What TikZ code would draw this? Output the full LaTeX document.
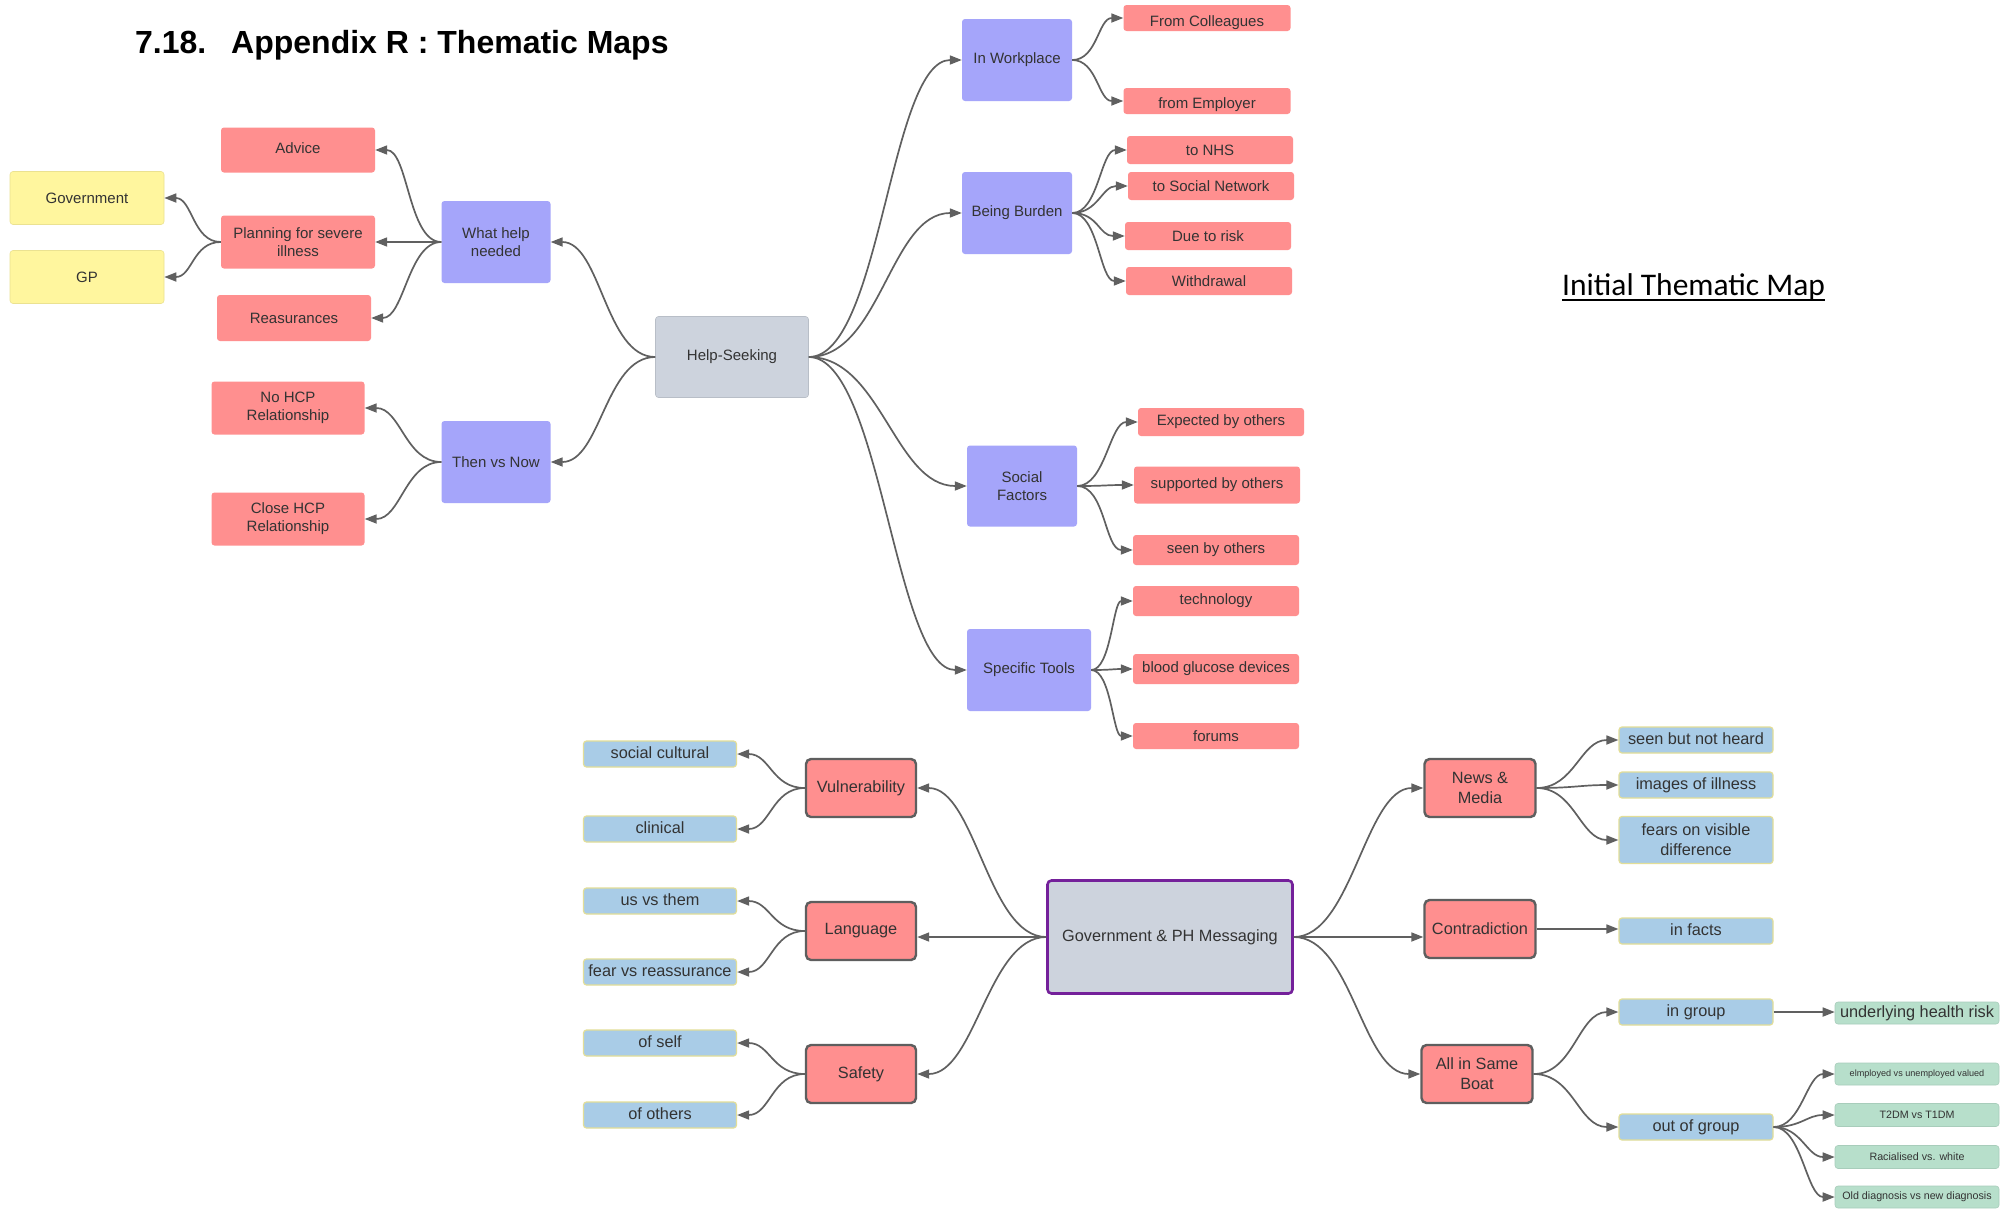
\documentclass[tikz,border=0pt]{standalone}
\usepackage{fontspec}
\setmainfont{Liberation Sans}
\newfontfamily\calfont{Carlito}
\usetikzlibrary{arrows.meta}

\definecolor{subfill}{HTML}{A5A5FA}
\definecolor{pinkfill}{HTML}{FF8F8F}
\definecolor{grayfill}{HTML}{CDD3DD}
\definecolor{yellowfill}{HTML}{FFF69E}
\definecolor{bluefill}{HTML}{A9CCE7}
\definecolor{blueline}{HTML}{E2DE98}
\definecolor{greenfill}{HTML}{B7DFCB}
\definecolor{darkline}{HTML}{5E5E5E}
\definecolor{govline}{HTML}{74209A}
\definecolor{edgecol}{HTML}{606060}
\definecolor{txt}{HTML}{333333}

\tikzset{
  box/.style={rectangle, rounded corners=3pt, inner sep=1pt, align=center, text=txt},
  topfont/.style={font=\fontsize{15}{18.2}\selectfont},
  lowfont/.style={font=\fontsize{16.3}{19.7}\selectfont},
  hub/.style={box, topfont, fill=grayfill, draw=grayfill!90!black, line width=0.6pt},
  sub/.style={box, topfont, fill=subfill},
  leaf/.style={box, topfont, fill=pinkfill},
  note/.style={box, topfont, fill=yellowfill, draw=yellowfill!92!black, line width=0.6pt},
  theme/.style={box, lowfont, fill=pinkfill, draw=darkline, line width=2.4pt, rounded corners=5pt},
  code/.style={box, lowfont, fill=bluefill, draw=blueline, line width=1.2pt, text height=12pt, text depth=4pt},
  detail/.style={box, fill=greenfill, draw=greenfill!92!black, line width=0.6pt},
  govbox/.style={box, lowfont, fill=grayfill, draw=govline, line width=2.6pt, rounded corners=4pt},
  link/.style={draw=edgecol, line width=1.7pt, -{Triangle[length=12pt,width=9pt]}},
  goright/.style={out=0, in=180, distance=#1},
  goleft/.style={out=180, in=0, distance=#1}
}

\begin{document}
\begin{tikzpicture}[x=1pt, y=-1pt]
\fill[white] (0,0) rectangle (2008,1208);
\useasboundingbox (0,0) rectangle (2008,1208);

% headings
\node[anchor=base west, inner sep=0, font=\fontsize{32}{36}\selectfont\bfseries] (num) at (135,53) {7.18.};
\node[anchor=base west, inner sep=0, font=\fontsize{32}{36}\selectfont\bfseries] (head) at (231,53) {Appendix R : Thematic Maps};
\node[anchor=base west, inner sep=0, font=\calfont\fontsize{31.5}{36}\selectfont] (itm) at (1562,295) {Initial Thematic Map};
\draw[line width=2pt] ([yshift=-4.5pt]itm.base west) -- ([yshift=-4.5pt]itm.base east);

% ---- Help-Seeking map ----
\node[hub, minimum width=153pt, minimum height=81pt] (hs) at (732,357) {Help-Seeking};

\node[sub, minimum width=109pt, minimum height=82pt] (whn) at (496,242) {What help\\needed};
\node[sub, minimum width=109pt, minimum height=82pt] (tvn) at (496,462) {Then vs Now};

\node[leaf, minimum width=154pt, minimum height=45pt, text height=7pt, text depth=0pt] (advice) at (298,150) {Advice};
\node[leaf, minimum width=154pt, minimum height=53pt] (plan) at (298,242) {Planning for severe\\illness};
\node[leaf, minimum width=154pt, minimum height=46pt] (reas) at (294,318) {Reasurances};
\node[note, minimum width=154pt, minimum height=53pt] (govt) at (87,198) {Government};
\node[note, minimum width=154pt, minimum height=53pt] (gp) at (87,277) {GP};
\node[leaf, minimum width=153pt, minimum height=53pt] (nohcp) at (288,408) {No HCP\\Relationship};
\node[leaf, minimum width=153pt, minimum height=53pt] (closehcp) at (288,519) {Close HCP\\Relationship};

\node[sub, minimum width=110pt, minimum height=82pt] (iw) at (1017,60) {In Workplace};
\node[sub, minimum width=110pt, minimum height=82pt] (bb) at (1017,213) {Being Burden};
\node[sub, minimum width=110pt, minimum height=81pt] (sf) at (1022,486) {Social\\Factors};
\node[sub, minimum width=124pt, minimum height=82pt] (st) at (1029,670) {Specific Tools};

\node[leaf, minimum width=167pt, minimum height=26pt, text height=19pt, text depth=3pt] (fc) at (1207,18) {From Colleagues};
\node[leaf, minimum width=167pt, minimum height=26pt, text height=18pt, text depth=3pt] (fe) at (1207,101) {from Employer};
\node[leaf, minimum width=166pt, minimum height=28pt] (nhs) at (1210,150) {to NHS};
\node[leaf, minimum width=166pt, minimum height=28pt] (sn) at (1211,186) {to Social Network};
\node[leaf, minimum width=166pt, minimum height=28pt] (risk) at (1208,236) {Due to risk};
\node[leaf, minimum width=166pt, minimum height=28pt] (wd) at (1209,281) {Withdrawal};
\node[leaf, minimum width=166pt, minimum height=28pt] (expo) at (1221,422) {Expected by others};
\node[leaf, minimum width=166pt, minimum height=37pt] (suppo) at (1217,485) {supported by others};
\node[leaf, minimum width=166pt, minimum height=30pt] (seen) at (1216,550) {seen by others};
\node[leaf, minimum width=166pt, minimum height=30pt] (tech) at (1216,601) {technology};
\node[leaf, minimum width=166pt, minimum height=30pt] (bgd) at (1216,669) {blood glucose devices};
\node[leaf, minimum width=166pt, minimum height=26pt] (forums) at (1216,736) {forums};

\draw[link] (hs.west) to[goleft=50pt] (whn.east);
\draw[link] (hs.west) to[goleft=50pt] (tvn.east);
\draw[link] (whn.west) to[goleft=33pt] (advice.east);
\draw[link] (whn.west) to[goleft=33pt] (plan.east);
\draw[link] (whn.west) to[goleft=33pt] (reas.east);
\draw[link] (plan.west) to[goleft=28pt] (govt.east);
\draw[link] (plan.west) to[goleft=28pt] (gp.east);
\draw[link] (tvn.west) to[goleft=36pt] (nohcp.east);
\draw[link] (tvn.west) to[goleft=36pt] (closehcp.east);

\draw[link] (hs.east) to[goright=72pt] (iw.west);
\draw[link] (hs.east) to[goright=72pt] (bb.west);
\draw[link] (hs.east) to[goright=72pt] (sf.west);
\draw[link] (hs.east) to[goright=72pt] (st.west);

\draw[link] (iw.east) to[goright=25pt] (fc.west);
\draw[link] (iw.east) to[goright=25pt] (fe.west);
\draw[link] (bb.east) to[goright=26pt] (nhs.west);
\draw[link] (bb.east) to[goright=26pt] (sn.west);
\draw[link] (bb.east) to[goright=26pt] (risk.west);
\draw[link] (bb.east) to[goright=26pt] (wd.west);
\draw[link] (sf.east) to[goright=28pt] (expo.west);
\draw[link] (sf.east) to[goright=28pt] (suppo.west);
\draw[link] (sf.east) to[goright=28pt] (seen.west);
\draw[link] (st.east) to[goright=20pt] (tech.west);
\draw[link] (st.east) to[goright=20pt] (bgd.west);
\draw[link] (st.east) to[goright=20pt] (forums.west);

% ---- Government & PH Messaging map ----
\node[govbox, minimum width=245pt, minimum height=113pt] (gov) at (1170,937) {Government \& PH Messaging};

\node[theme, minimum width=110pt, minimum height=58pt] (vul) at (861,788) {Vulnerability};
\node[theme, minimum width=110pt, minimum height=58pt] (lang) at (861,931) {Language};
\node[theme, minimum width=110pt, minimum height=58pt] (safety) at (861,1074) {Safety};

\node[code, minimum width=153pt, minimum height=26pt] (sc) at (660,754) {social cultural};
\node[code, minimum width=153pt, minimum height=26pt] (clin) at (660,829) {clinical};
\node[code, minimum width=153pt, minimum height=26pt] (uvt) at (660,901) {us vs them};
\node[code, minimum width=153pt, minimum height=26pt] (fvr) at (660,972) {fear vs reassurance};
\node[code, minimum width=153pt, minimum height=26pt] (self) at (660,1043) {of self};
\node[code, minimum width=153pt, minimum height=26pt] (oth) at (660,1115) {of others};

\node[theme, minimum width=111pt, minimum height=58pt] (news) at (1480,788) {News \&\\Media};
\node[theme, minimum width=111pt, minimum height=58pt] (contra) at (1480,929) {Contradiction};
\node[theme, minimum width=111pt, minimum height=58pt] (boat) at (1477,1074) {All in Same\\Boat};

\node[code, minimum width=154pt, minimum height=26pt] (sbnh) at (1696,740) {seen but not heard};
\node[code, minimum width=154pt, minimum height=26pt] (ioi) at (1696,785) {images of illness};
\node[code, minimum width=154pt, minimum height=47pt, text height=, text depth=] (fovd) at (1696,840) {fears on visible\\difference};
\node[code, minimum width=154pt, minimum height=26pt] (facts) at (1696,931) {in facts};
\node[code, minimum width=154pt, minimum height=26pt] (ing) at (1696,1012) {in group};
\node[code, minimum width=154pt, minimum height=26pt] (outg) at (1696,1127) {out of group};

\node[detail, lowfont, minimum width=164pt, minimum height=22pt] (uhr) at (1917,1013) {underlying health risk};
\node[detail, font=\fontsize{9.1}{11}\selectfont, minimum width=164pt, minimum height=22pt] (emp) at (1917,1074) {elmployed vs unemployed valued};
\node[detail, font=\fontsize{10.7}{13}\selectfont, minimum width=164pt, minimum height=23pt] (t2) at (1917,1115) {T2DM vs T1DM};
\node[detail, font=\fontsize{10.7}{13}\selectfont, minimum width=164pt, minimum height=23pt] (rac) at (1917,1157) {Racialised vs. white};
\node[detail, font=\fontsize{10.7}{13}\selectfont, minimum width=164pt, minimum height=22pt] (old) at (1917,1197) {Old diagnosis vs new diagnosis};

\draw[link] (gov.west) to[goleft=58pt] (vul.east);
\draw[link] (gov.west) -- (gov.west -| lang.east);
\draw[link] (gov.west) to[goleft=58pt] (safety.east);
\draw[link] (vul.west) to[goleft=33pt] (sc.east);
\draw[link] (vul.west) to[goleft=33pt] (clin.east);
\draw[link] (lang.west) to[goleft=33pt] (uvt.east);
\draw[link] (lang.west) to[goleft=33pt] (fvr.east);
\draw[link] (safety.west) to[goleft=33pt] (self.east);
\draw[link] (safety.west) to[goleft=33pt] (oth.east);

\draw[link] (gov.east) to[goright=58pt] (news.west);
\draw[link] (gov.east) -- (gov.east -| contra.west);
\draw[link] (gov.east) to[goright=58pt] (boat.west);
\draw[link] (news.east) to[goright=38pt] (sbnh.west);
\draw[link] (news.east) to[goright=38pt] (ioi.west);
\draw[link] (news.east) to[goright=38pt] (fovd.west);
\draw[link] (contra.east) -- (contra.east -| facts.west);
\draw[link] (boat.east) to[goright=40pt] (ing.west);
\draw[link] (boat.east) to[goright=40pt] (outg.west);
\draw[link] (ing.east) -- (ing.east -| uhr.west);
\draw[link] (outg.east) to[goright=28pt] (emp.west);
\draw[link] (outg.east) to[goright=28pt] (t2.west);
\draw[link] (outg.east) to[goright=28pt] (rac.west);
\draw[link] (outg.east) to[goright=28pt] (old.west);
\end{tikzpicture}
\end{document}
